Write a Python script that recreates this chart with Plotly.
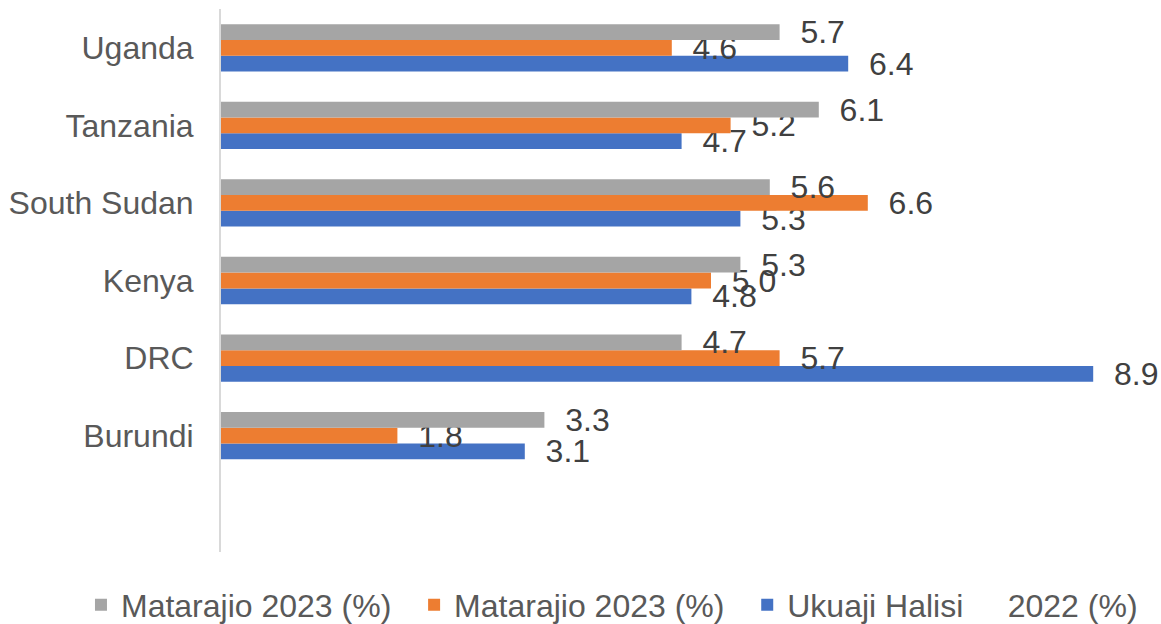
import plotly.graph_objects as go

countries = ["Burundi", "DRC", "Kenya", "South Sudan", "Tanzania", "Uganda"]
matarajio_gray = [3.3, 4.7, 5.3, 5.6, 6.1, 5.7]
matarajio_orange = [1.8, 5.7, 5.0, 6.6, 5.2, 4.6]
ukuaji_2022 = [3.1, 8.9, 4.8, 5.3, 4.7, 6.4]

NB = "\u00a0"
series_names = ["Matarajio 2023 (%)" + NB * 2, "Matarajio 2023 (%)" + NB * 2,
                "Ukuaji Halisi" + NB * 5 + "2022 (%)"]
colors = ["#A5A5A5", "#ED7D31", "#4472C4"]

FONT = "Liberation Sans, Arial, sans-serif"

fig = go.Figure()
# Plotly stacks the first trace at the bottom of each group -> add blue first
for name, vals, col in [(series_names[2], ukuaji_2022, colors[2]),
                        (series_names[1], matarajio_orange, colors[1]),
                        (series_names[0], matarajio_gray, colors[0])]:
    fig.add_trace(go.Bar(
        y=countries, x=vals, name=name, orientation="h",
        marker=dict(color=col, line=dict(width=0)),
        text=[f"{NB}{NB}{v:.1f}" for v in vals],
        textposition="outside", constraintext="none", cliponaxis=False,
        textfont=dict(family=FONT, size=32, color="#404040"),
    ))

fig.update_layout(
    width=1161, height=624,
    margin=dict(l=221, r=9, t=9, b=72, autoexpand=False),
    paper_bgcolor="white", plot_bgcolor="white",
    barmode="group", bargap=0.39, bargroupgap=0,
    font=dict(family=FONT, color="#595959"),
    showlegend=True,
    legend=dict(orientation="h", traceorder="reversed",
                x=-0.1504, xanchor="left", y=-0.0976, yanchor="middle",
                font=dict(family=FONT, size=32, color="#595959"),
                itemwidth=30),
    xaxis=dict(range=[0, 9.5], showgrid=False, zeroline=False,
               showline=False, showticklabels=False, ticks="",
               automargin=False),
    yaxis=dict(type="category", range=[-1.5, 5.5], showgrid=False,
               zeroline=False, showline=True, linecolor="#D9D9D9",
               linewidth=2, ticks="", ticklabelstandoff=19,
               automargin=False,
               tickfont=dict(family=FONT, size=32, color="#595959")),
)

fig.write_html(
    "out.html",
    config={"displayModeBar": False},
    post_script="document.body.style.margin='0';document.body.style.overflow='hidden';",
)
